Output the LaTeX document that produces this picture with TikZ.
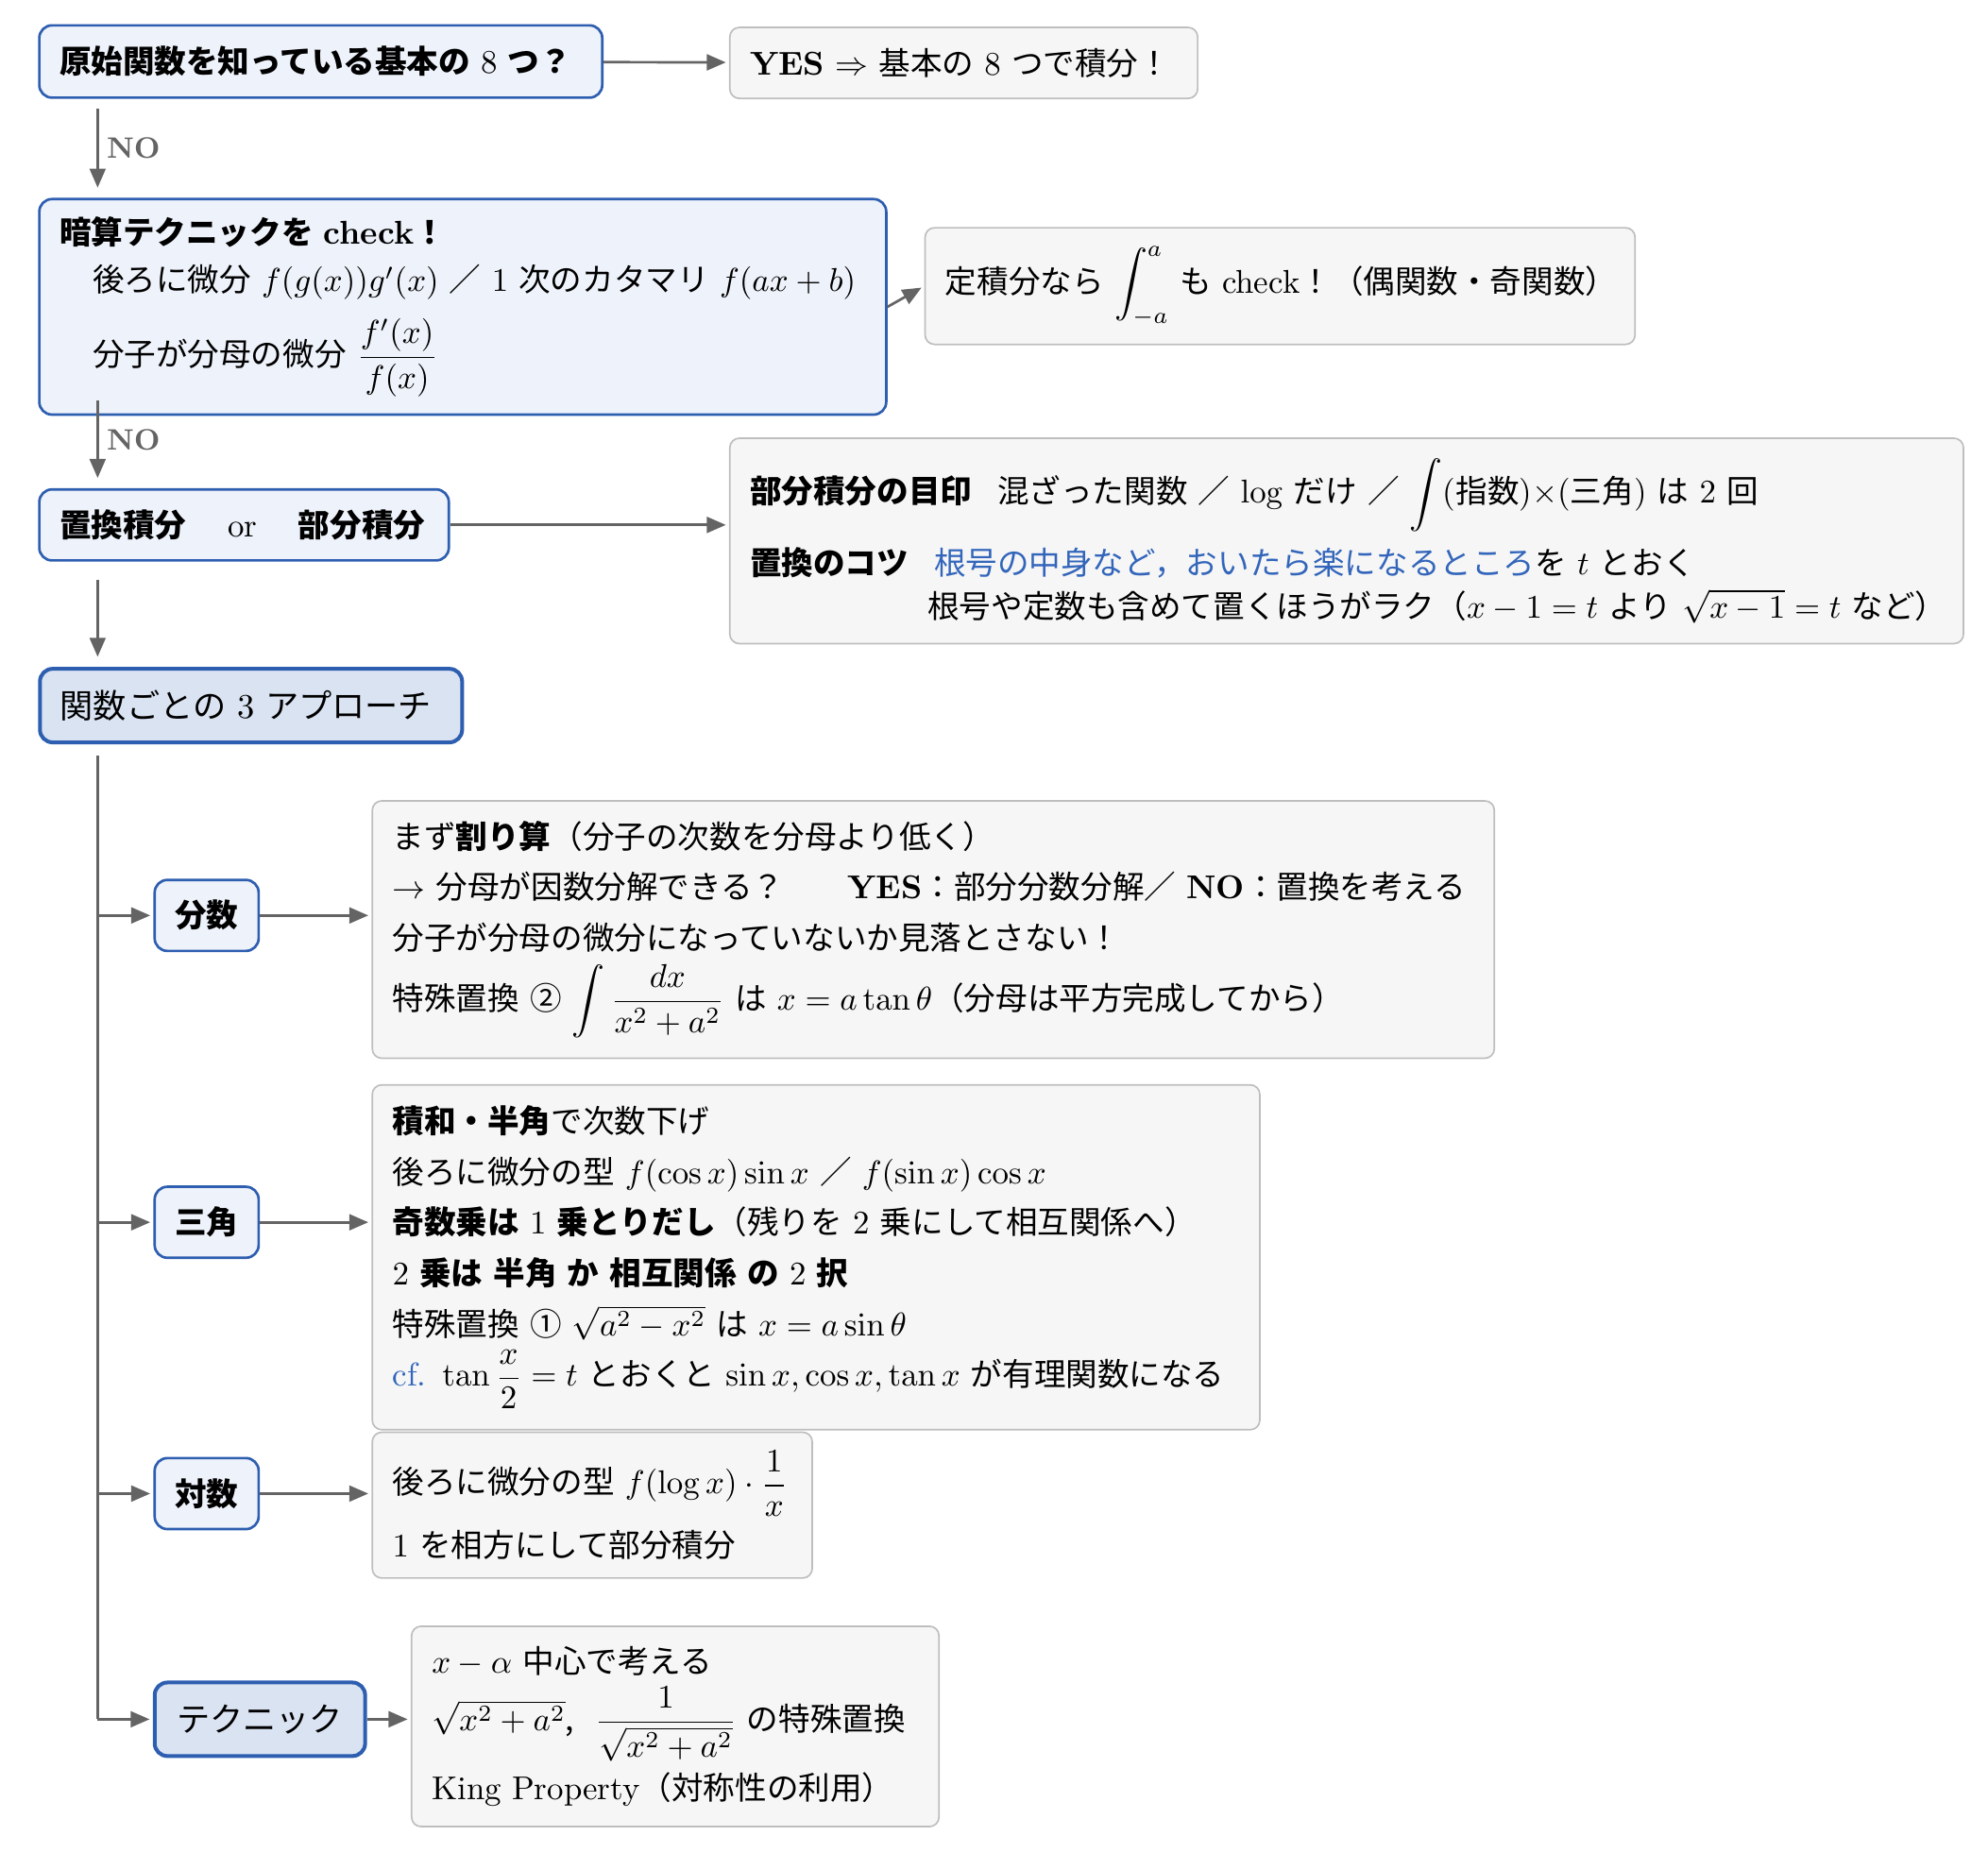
\RequirePackage{fix-cm}
\documentclass[tikz,border=0pt]{standalone}
\usepackage{amsmath}
\usepackage{amssymb}
\usepackage[no-math]{fontspec}
\setmainfont[Scale=0.962,WordSpace=1.8]{Noto Sans CJK JP}
\usepackage{tikz}
\usetikzlibrary{arrows.meta}

\definecolor{boxblue}{RGB}{46,94,176}
\definecolor{lightblue}{RGB}{238,242,250}
\definecolor{darkblue}{RGB}{218,227,242}
\definecolor{boxgray}{RGB}{190,190,190}
\definecolor{fillgray}{RGB}{246,246,246}
\definecolor{arrgray}{RGB}{100,100,100}
\definecolor{textblue}{RGB}{51,102,187}

\newcommand\lm[1]{{\fontfamily{lmr}\fontseries{m}\selectfont #1}}
\newcommand\lmbf[1]{{\fontfamily{lmr}\fontseries{bx}\selectfont #1}}

\begin{document}
\fontsize{10.4}{12.5}\selectfont
\begin{tikzpicture}
			[x=0.4pt,y=-0.4pt,
			bluebox/.style={draw=boxblue,fill=lightblue,line width=0.8pt,rounded corners=4pt,inner xsep=6.4pt,inner ysep=0pt,align=left},
			bigbox/.style={bluebox,fill=darkblue,line width=1.2pt,font=\fontsize{10.9}{13}\selectfont},
			graybox/.style={draw=boxgray,fill=fillgray,line width=0.5pt,rounded corners=3pt,inner xsep=6.4pt,inner ysep=0pt,align=left},
			line/.style={draw=arrgray,line width=0.8pt},
			arr/.style={line,-{Triangle[length=6pt,width=5pt]},shorten >=1pt},
			nolab/.style={text=arrgray,inner sep=2.5pt,font=\fontfamily{lmr}\fontseries{bx}\fontsize{9.3}{11}\selectfont},
			body/.style={font=\fontsize{10.4}{16}\selectfont}]
			\useasboundingbox (0,0) rectangle (1568,1461);
			
			\node[bluebox,anchor=north west,text width=164.8pt,minimum height=22.8pt,font=\bfseries] (q1) at (30,19) {\mbox{原始関数を知っている基本の {\mdseries$8$} つ？}};
			\node[graybox,anchor=north west,text width=134.8pt,minimum height=22.4pt] (yes) at (575,21) {\mbox{\lmbf{YES} $\Rightarrow$ 基本の $8$ つで積分！}};
			\node[bluebox,anchor=north west,text width=254.4pt,minimum height=68pt] (q2) at (30,156)
			{\textbf{暗算テクニックを \lmbf{check}！}\\[2.4pt]
				\hspace*{10.4pt}\mbox{後ろに微分 $f(g(x))g'(x)$ ／ $1$ 次のカタマリ $f(ax+b)$}\\[5pt]
				\hspace*{10.4pt}分子が分母の微分 $\dfrac{f'(x)}{f(x)}$};
			\node[graybox,anchor=north west,text width=211.2pt,minimum height=36.8pt] (defint) at (729,179) {\mbox{定積分なら $\displaystyle\int_{-a}^{a}$ も \lm{check}！（偶関数・奇関数）}};
			\node[bluebox,anchor=north west,text width=116.4pt,minimum height=22.4pt] (q3) at (30,385) {\textbf{置換積分}\hspace{1.3em}\lm{or}\hspace{1.3em}\textbf{部分積分}};
			\node[graybox,anchor=north west,text width=376.4pt,minimum height=64.8pt] (tips) at (575,345)
			{\mbox{\textbf{部分積分の目印}\hspace{0.8em}混ざった関数 ／ $\log$ だけ ／ $\displaystyle\int$\lm{(}指数\lm{)}$\times$\lm{(}三角\lm{)} は $2$ 回}\\[4pt]
				\mbox{\textbf{置換のコツ}\hspace{0.8em}\textcolor{textblue}{根号の中身など，おいたら楽になるところ}を $t$ とおく}\\[1.1pt]
				\mbox{\phantom{\textbf{置換のコツ}}\hspace{0.6em}根号や定数も含めて置くほうがラク（$x-1=t$ より $\sqrt{x-1}=t$ など）}};
			\node[bigbox,anchor=north west,text width=120.4pt,minimum height=23.2pt] (appr) at (30,526) {\mbox{関数ごとの $3$ アプローチ}};
			
			% branches
			\node[bluebox,align=center,minimum width=32.8pt,minimum height=22.4pt,font=\bfseries] (bunsu) at (163,722) {分数};
			\node[bluebox,align=center,minimum width=32.8pt,minimum height=22.4pt,font=\bfseries] (sankaku) at (163,964) {三角};
			\node[bluebox,align=center,minimum width=32.8pt,minimum height=22.4pt,font=\bfseries] (taisu) at (163,1178) {対数};
			\node[bigbox,align=center,minimum width=66.4pt,minimum height=23.2pt] (tech) at (205,1356) {テクニック};
			
			\node[graybox,body,anchor=north west,text width=341.2pt,minimum height=81.2pt] (bunsuR) at (293,631)
			{まず\textbf{割り算}（分子の次数を分母より低く）\\
				\mbox{$\to$ 分母が因数分解できる？\qquad\lmbf{YES}：部分分数分解／ \lmbf{NO}：置換を考える}\\
				分子が分母の微分になっていないか見落とさない！\\[3pt]
				\mbox{特殊置換 ② $\displaystyle\int\frac{dx}{x^2+a^2}$ は $x=a\tan\theta$（分母は平方完成してから）}};
			\node[graybox,body,anchor=north west,text width=267.2pt,minimum height=108.8pt] (sankakuR) at (293,855)
			{\textbf{積和・半角}で次数下げ\\
				\mbox{後ろに微分の型 $f(\cos x)\sin x$ ／ $f(\sin x)\cos x$}\\
				\mbox{\textbf{奇数乗は} $1$ \textbf{乗とりだし}（残りを $2$ 乗にして相互関係へ）}\\
				\mbox{$2$ \textbf{乗は 半角 か 相互関係 の} $2$ \textbf{択}}\\
				\mbox{特殊置換 ① $\sqrt{a^2-x^2}$ は $x=a\sin\theta$}\\
				\mbox{\textcolor{textblue}{\lm{cf.}} $\tan\dfrac{x}{2}=t$ とおくと $\sin x,\cos x,\tan x$ が有理関数になる}};
			\node[graybox,body,anchor=north west,text width=126pt,minimum height=46pt] (taisuR) at (293,1129)
			{\mbox{後ろに微分の型 $f(\log x)\cdot\dfrac{1}{x}$}\\[4pt]
				\mbox{$1$ を相方にして部分積分}};
			\node[graybox,body,anchor=north west,text width=153.6pt,minimum height=63.2pt] (techR) at (324,1282)
			{\mbox{$x-\alpha$ 中心で考える}\\[2pt]
				\mbox{$\sqrt{x^2+a^2}$, \ $\dfrac{1}{\sqrt{x^2+a^2}}$ の特殊置換}\\[2.5pt]
				\mbox{\lm{King Property}（対称性の利用）}};
			
			\coordinate (top) at (77,596);
			
			\draw[arr] (q1) -- (yes);
			\draw[arr] (q2.east) -- (defint.west);
			\draw[arr] (q3.east) -- (q3.east -| tips.west);
			\draw[arr,shorten <=3.2pt,shorten >=3.2pt] (top |- q1.south) -- (top |- q2.north) node[midway,right,nolab] {NO};
			\draw[arr,shorten <=-4.8pt,shorten >=3.2pt] (top |- q2.south) -- (top |- q3.north) node[pos=0.33,right,nolab] {NO};
			\draw[arr,shorten <=5.6pt,shorten >=3.2pt] (top |- q3.south) -- (top |- appr.north);
			
			\draw[line] (top) -- (top |- tech.west);
			\foreach \n in {bunsu,sankaku,taisu,tech}
			\draw[arr] (top |- \n.west) -- (\n.west);
			\foreach \from/\to in {bunsu/bunsuR,sankaku/sankakuR,taisu/taisuR,tech/techR}
			\draw[arr] (\from.east) -- (\from.east -| \to.west);
			\end{tikzpicture}
\end{document}
